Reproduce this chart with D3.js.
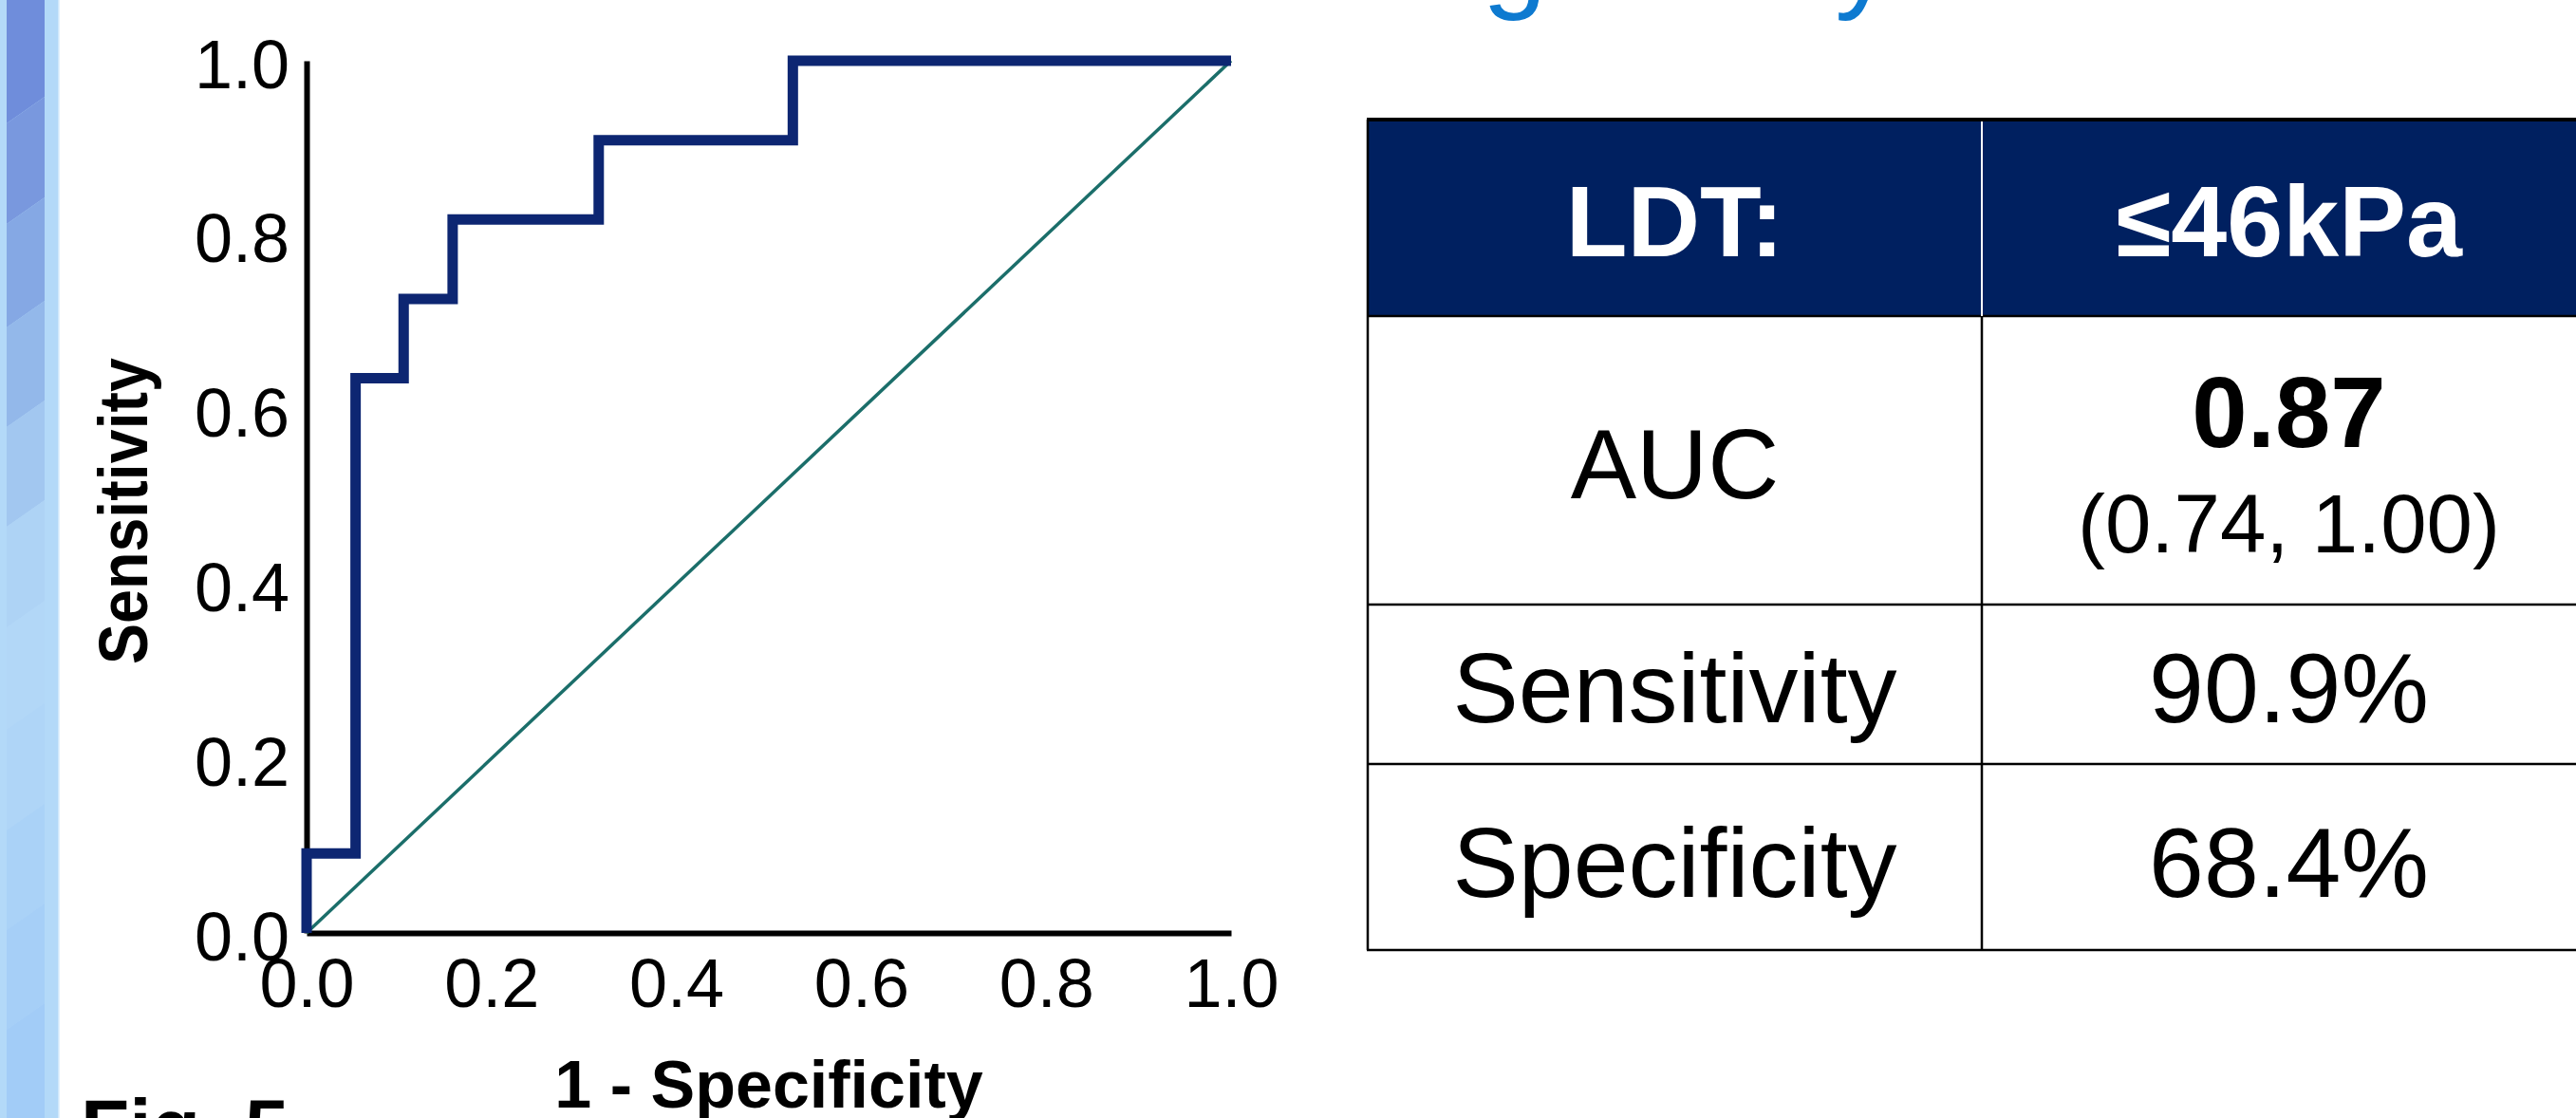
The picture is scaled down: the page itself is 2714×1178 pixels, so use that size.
<!DOCTYPE html>
<html>
<head>
<meta charset="utf-8">
<script src="https://cdn.jsdelivr.net/npm/d3@7"></script>
<style>
  html, body { margin: 0; padding: 0; background: #fff; overflow: hidden; }
  svg { display: block; font-family: "Liberation Sans", Arial, Helvetica, sans-serif; }
</style>
</head>
<body>
<div id="chart"></div>
<script>
// ROC curve corners (1 - specificity, sensitivity)
const fpr = [0, 0, 0.053, 0.053, 0.105, 0.105, 0.158, 0.158, 0.316, 0.316, 0.526, 0.526, 1.0]
const tpr = [0, 0.091, 0.091, 0.636, 0.636, 0.727, 0.727, 0.818, 0.818, 0.909, 0.909, 1.0, 1.0]
const refLine = [0, 1]
const tickValues = [0, 0.2, 0.4, 0.6, 0.8, 1.0]

// summary table
const tableHeader = ["LDT:", "\u226446kPa"]
const rowLabels = ["AUC", "Sensitivity", "Specificity"]
const rowValues = ["0.87", "90.9%", "68.4%"]
const aucInterval = "(0.74, 1.00)"

// decorative slide stripe on the left
const stripeColors = ["#6f8ddb", "#7998de", "#85a8e4", "#93b8ea", "#a2c7f0", "#aed3f5",
                      "#b2d7f7", "#afd5f7", "#aad2f7", "#a6cff7", "#a2ccf7"]

const width = 2714, height = 1178

const svg = d3.select('#chart')
    .append('svg')
    .attr('width', width)
    .attr('height', height)
    .style('background', '#fff')

drawStripe()
drawTitle()
drawRoc()
drawTable()

function drawStripe() {
    const g = svg.append('g').attr('class', 'stripe')
    g.append('rect').attr('x', 0).attr('y', 0).attr('width', 62).attr('height', height).attr('fill', '#b3d9f8')
    // uneven band edges
    const edges = [-20, 116, 222, 331, 436, 541, 647, 755, 861, 966, 1071, 1200]
    stripeColors.forEach((c, i) => {
        const t = edges[i], b = edges[i + 1]
        g.append('polygon')
            .attr('points', `7,${t + 14} 47,${t - 14} 47,${b - 14} 7,${b + 14}`)
            .attr('fill', c)
    })
    g.append('rect').attr('x', 0).attr('y', 0).attr('width', 7).attr('height', height).attr('fill', '#b3d9f8')
    g.append('line').attr('x1', 62).attr('x2', 62).attr('y1', 0).attr('y2', height)
        .attr('stroke', '#d8ecfc').attr('stroke-width', 1.5)
}

function drawTitle() {
    // slide title, mostly cut off by the top edge
    svg.append('text')
        .attr('x', 844)
        .attr('y', -3)
        .attr('fill', '#0e7ad0')
        .style('font-size', '122px')
        .style('letter-spacing', '1.5px')
        .text('Discriminating Ability')

    svg.append('text')
        .attr('x', 85)
        .attr('y', 1217)
        .attr('fill', '#000')
        .style('font-size', '84px')
        .style('font-weight', 'bold')
        .text('Fig. 5')
}

function drawRoc() {
    const x = d3.scaleLinear().domain([0, 1]).range([323, 1297])
    const y = d3.scaleLinear().domain([0, 1]).range([983, 64])
    const fmt = d3.format('.1f')

    const yAxis = svg.append('g')
        .attr('transform', `translate(${x(0)},0)`)
        .call(d3.axisLeft(y).tickValues(tickValues).tickFormat(fmt).tickSize(0).tickPadding(18))
    yAxis.select('.domain').attr('stroke', '#000').attr('stroke-width', 6)
    yAxis.selectAll('text').attr('dy', '0.39em').style('font-size', '72px').attr('fill', '#000')

    const xAxis = svg.append('g')
        .attr('transform', `translate(0,${y(0)})`)
        .call(d3.axisBottom(x).tickValues(tickValues).tickFormat(fmt).tickSize(0).tickPadding(27))
    xAxis.select('.domain').attr('stroke', '#000').attr('stroke-width', 6)
    xAxis.selectAll('text').style('font-size', '72px').attr('fill', '#000')

    svg.append('text')
        .attr('x', (x(0) + x(1)) / 2)
        .attr('y', 1167)
        .attr('text-anchor', 'middle')
        .style('font-size', '70px')
        .style('font-weight', 'bold')
        .text('1 - Specificity')

    svg.append('text')
        .attr('transform', `translate(155,${(y(0) + y(1)) / 2 + 15}) rotate(-90)`)
        .attr('text-anchor', 'middle')
        .style('font-size', '72px')
        .style('font-weight', 'bold')
        .attr('textLength', 323)
        .attr('lengthAdjust', 'spacingAndGlyphs')
        .text('Sensitivity')

    const line = d3.line().x(d => x(d[0])).y(d => y(d[1]))

    svg.append('path')
        .attr('d', line(refLine.map(v => [v, v])))
        .attr('fill', 'none')
        .attr('stroke', '#1b6e6a')
        .attr('stroke-width', 3.5)

    svg.append('path')
        .attr('d', line(fpr.map((v, i) => [v, tpr[i]])))
        .attr('fill', 'none')
        .attr('stroke', '#0d2672')
        .attr('stroke-width', 11)
        .attr('stroke-linejoin', 'miter')
}

function drawTable() {
    const left = 1441, colW = 647
    const rowEdges = [126, 333, 637, 805, 1001]
    const colX = d3.scaleLinear().domain([0, 2]).range([left, left + 2 * colW])
    const g = svg.append('g').attr('class', 'table')

    g.append('rect')
        .attr('x', colX(0)).attr('y', rowEdges[0])
        .attr('width', colX(2) - colX(0)).attr('height', rowEdges[1] - rowEdges[0])
        .attr('fill', '#002060')

    // header text
    tableHeader.forEach((t, i) => {
        g.append('text')
            .attr('x', (colX(i) + colX(i + 1)) / 2)
            .attr('y', 270)
            .attr('text-anchor', 'middle')
            .attr('fill', '#fff')
            .style('font-size', '106px')
            .style('font-weight', 'bold')
            .text(t)
    })

    const baselines = [525, 761, 945]
    rowLabels.forEach((t, i) => {
        g.append('text')
            .attr('x', (colX(0) + colX(1)) / 2)
            .attr('y', baselines[i])
            .attr('text-anchor', 'middle')
            .style('font-size', '104px')
            .text(t)
        if (i === 0) {
            g.append('text')
                .attr('x', (colX(1) + colX(2)) / 2)
                .attr('y', 471)
                .attr('text-anchor', 'middle')
                .style('font-size', '105px')
                .style('font-weight', 'bold')
                .text(rowValues[i])
            g.append('text')
                .attr('x', (colX(1) + colX(2)) / 2)
                .attr('y', 582)
                .attr('text-anchor', 'middle')
                .style('font-size', '87px')
                .text(aucInterval)
        } else {
            g.append('text')
                .attr('x', (colX(1) + colX(2)) / 2)
                .attr('y', baselines[i])
                .attr('text-anchor', 'middle')
                .style('font-size', '104px')
                .text(rowValues[i])
        }
    })

    // grid lines
    rowEdges.forEach((ry, i) => {
        g.append('line')
            .attr('x1', colX(0) - 1).attr('x2', colX(2))
            .attr('y1', ry).attr('y2', ry)
            .attr('stroke', '#000').attr('stroke-width', i === 0 ? 4 : 2.5)
    })
    g.append('line')
        .attr('x1', colX(0)).attr('x2', colX(0))
        .attr('y1', rowEdges[0]).attr('y2', rowEdges[4])
        .attr('stroke', '#000').attr('stroke-width', 2.5)
    g.append('line')
        .attr('x1', colX(1)).attr('x2', colX(1))
        .attr('y1', rowEdges[0] + 2).attr('y2', rowEdges[1])
        .attr('stroke', '#fff').attr('stroke-width', 2)
    g.append('line')
        .attr('x1', colX(1)).attr('x2', colX(1))
        .attr('y1', rowEdges[1]).attr('y2', rowEdges[4])
        .attr('stroke', '#000').attr('stroke-width', 2.5)
}
</script>
</body>
</html>
